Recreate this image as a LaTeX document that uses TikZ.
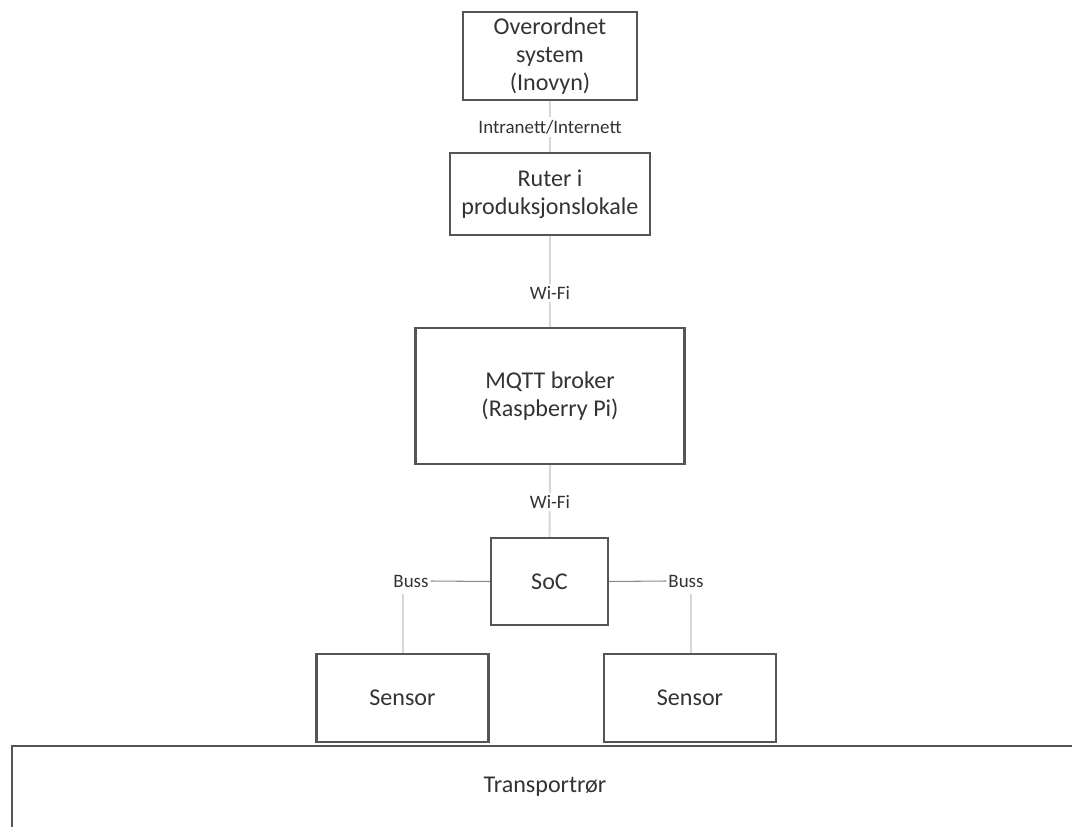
\documentclass[tikz,border=0pt]{standalone}
\usepackage{fontspec}
\setmainfont{Carlito}
\definecolor{boxline}{HTML}{555555}
\definecolor{linklight}{HTML}{D6D6D6}
\definecolor{linkdark}{HTML}{8A8A8A}
\definecolor{txt}{HTML}{333333}
\tikzset{
  blockbox/.style={draw=boxline, line width=1.2pt, fill=white, align=center,
    text=txt, font=\fontsize{13.7}{16}\selectfont, inner sep=0pt},
  linklabel/.style={fill=white, text=txt, font=\fontsize{10.8}{12}\selectfont,
    inner sep=1.5pt},
  busslabel/.style={text=txt, font=\fontsize{10.8}{12}\selectfont, inner sep=1pt},
  softlink/.style={draw=linklight, line width=1.1pt},
  buslink/.style={draw=linkdark, line width=0.6pt},
}
\begin{document}
\begin{tikzpicture}[x=0.02cm, y=-0.02cm]
\useasboundingbox (0,0) rectangle (1072,827);
\clip (0,0) rectangle (1072,827);

% blocks
\node[blockbox, minimum width=174*0.02cm, minimum height=88*0.02cm] (top) at (550,56)
  {Overordnet\\system\\(Inovyn)};
\node[blockbox, minimum width=200*0.02cm, minimum height=82*0.02cm] (router) at (550,194)
  {Ruter i\\produksjonslokale};
\node[blockbox, minimum width=269*0.02cm, minimum height=136*0.02cm] (broker) at (550,396)
  {MQTT broker\\(Raspberry Pi)};
\node[blockbox, minimum width=117*0.02cm, minimum height=87*0.02cm] (soc) at (549.5,581.5)
  {SoC};
\node[blockbox, minimum width=172*0.02cm, minimum height=88*0.02cm] (sensL) at (402.5,698)
  {Sensor};
\node[blockbox, minimum width=172*0.02cm, minimum height=88*0.02cm] (sensR) at (690,698)
  {Sensor};
\node[blockbox, minimum width=1080*0.02cm, minimum height=90*0.02cm, anchor=north west] (pipe) at (11,745)
  {};
\node[text=txt, font=\fontsize{13.7}{16}\selectfont] (pipetext) at (545,787) {Transportrør};

% links between blocks
\draw[softlink] (top.south) -- (router.north);
\draw[softlink] (router.south) -- (broker.north);
\draw[softlink] (broker.south) -- (soc.north);

\node[linklabel] (lnet) at (550,127) {Intranett/Internett};
\node[linklabel] (lwifi1) at (550,293) {Wi-Fi};
\node[linklabel] (lwifi2) at (550,502) {Wi-Fi};

% bus links from the SoC to the sensors
\node[busslabel] (bussL) at (411,581) {Buss};
\node[busslabel] (bussR) at (686,581) {Buss};
\draw[buslink] (soc.west) -- (bussL.east);
\draw[buslink] (soc.east) -- (bussR.west);
\coordinate (bLdown) at (403,594);
\coordinate (bRdown) at (691,594);
\draw[softlink] (bLdown) -- (bLdown |- sensL.north);
\draw[softlink] (bRdown) -- (bRdown |- sensR.north);
\end{tikzpicture}
\end{document}
